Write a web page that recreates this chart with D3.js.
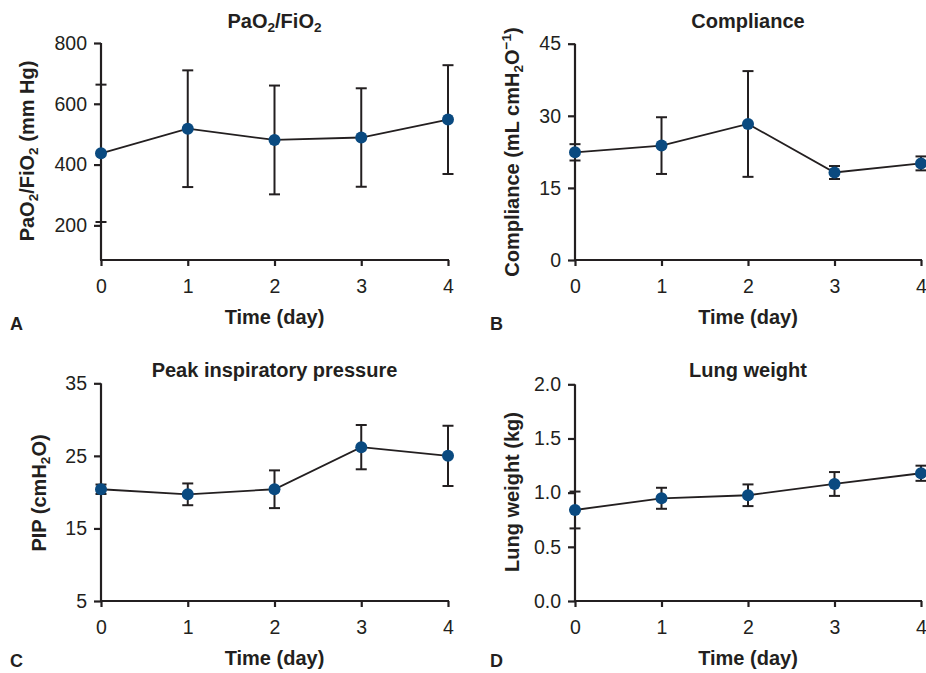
<!DOCTYPE html>
<html>
<head>
<meta charset="utf-8">
<script src="https://cdn.jsdelivr.net/npm/d3@7"></script>
<style>
  body { margin: 0; background: #fff; }
  svg { font-family: "Liberation Sans", Arial, sans-serif; }
  .axis path, .axis line { stroke: #231f20; stroke-width: 2.2; }
  .axis text { font-size: 19.5px; fill: #231f20; }
</style>
</head>
<body>
<svg id="chart" width="926" height="673"></svg>
<script>
// data (mean and SD per day)
const days = [0, 1, 2, 3, 4];

const pfMean = [437, 518, 481, 489, 548];
const pfSd = [226, 192, 179, 162, 179];
const pfTicks = [200, 400, 600, 800];

const compMean = [22.4, 23.8, 28.3, 18.2, 20.1];
const compSd = [1.7, 5.9, 11.0, 1.35, 1.45];
const compTicks = [0, 15, 30, 45];

const pipMean = [20.4, 19.7, 20.4, 26.2, 25.0];
const pipSd = [0.65, 1.5, 2.6, 3.05, 4.15];
const pipTicks = [5, 15, 25, 35];

const lungMean = [0.84, 0.948, 0.976, 1.08, 1.179];
const lungSd = [0.17, 0.097, 0.10, 0.11, 0.07];
const lungTicks = [0, 0.5, 1.0, 1.5, 2.0];

const ink = '#231f20';
const dotColor = '#0a4a80';
const titleSize = 20;

const svg = d3.select('#chart');

// helper: text with subscripts / superscripts, parts = [[text, 'sub'|'sup'|null], ...]
function richText(sel, parts, size) {
  parts.forEach(([t, kind]) => {
    if (!kind) {
      sel.append('tspan').attr('font-size', size).attr('baseline-shift', '0').text(t);
    } else {
      sel.append('tspan')
        .attr('font-size', size * 0.68)
        .attr('baseline-shift', kind === 'sub' ? '-28%' : '55%')
        .text(t);
    }
  });
}

function drawPanel(p) {
  const x = d3.scaleLinear().domain([0, 4]).range([p.left, p.right]);
  const y = d3.scaleLinear().domain(p.domain).range([p.bottom, p.top]);
  const g = svg.append('g');

  // axes
  g.append('g').attr('class', 'axis')
    .attr('transform', `translate(0,${p.bottom})`)
    .call(d3.axisBottom(x).tickValues(days).tickFormat(d3.format('d'))
      .tickSize(6).tickSizeOuter(0).tickPadding(13))
    .call(s => s.select('.domain').attr('d', `M${p.left - 1},0H${p.right + 1}`));
  g.append('g').attr('class', 'axis')
    .attr('transform', `translate(${p.left},0)`)
    .call(d3.axisLeft(y).tickValues(p.ticks).tickFormat(p.fmt).tickSize(7).tickSizeOuter(0).tickPadding(7))
    .call(s => s.select('.domain').attr('d', `M0,${p.top}V${p.bottom}`));

  // connecting line
  const line = d3.line().x((d, i) => x(days[i])).y(d => y(d));
  g.append('path').datum(p.mean)
    .attr('d', line).attr('fill', 'none')
    .attr('stroke', ink).attr('stroke-width', 1.8);

  // error bars
  const cap = 5.5;
  const eb = g.selectAll('.eb').data(p.mean).join('g');
  eb.each(function (m, i) {
    const cx = x(days[i]);
    const hi = y(m + p.sd[i]);
    const lo = y(Math.max(m - p.sd[i], p.domain[0]));
    const e = d3.select(this);
    e.append('line').attr('x1', cx).attr('x2', cx).attr('y1', hi).attr('y2', lo)
      .attr('stroke', ink).attr('stroke-width', 2);
    e.append('line').attr('x1', cx - cap).attr('x2', cx + cap).attr('y1', hi).attr('y2', hi)
      .attr('stroke', ink).attr('stroke-width', 2);
    if (m - p.sd[i] > p.domain[0]) {
      e.append('line').attr('x1', cx - cap).attr('x2', cx + cap).attr('y1', lo).attr('y2', lo)
        .attr('stroke', ink).attr('stroke-width', 2);
    }
  });

  // points
  g.selectAll('.dot').data(p.mean).join('circle')
    .attr('cx', (d, i) => x(days[i])).attr('cy', d => y(d))
    .attr('r', 6).attr('fill', dotColor);

  // title
  const title = g.append('text')
    .attr('x', (p.left + p.right) / 2).attr('y', p.titleY)
    .attr('text-anchor', 'middle').attr('font-weight', 'bold').attr('fill', ink);
  richText(title, p.title, titleSize);

  // x axis title
  g.append('text')
    .attr('x', (p.left + p.right) / 2).attr('y', p.bottom + 64)
    .attr('text-anchor', 'middle').attr('font-weight', 'bold').attr('fill', ink)
    .attr('font-size', titleSize).text('Time (day)');

  // y axis title
  const yt = g.append('text')
    .attr('transform', `translate(${p.yLabelX},${p.yLabelY}) rotate(-90)`)
    .attr('text-anchor', 'middle').attr('font-weight', 'bold').attr('fill', ink);
  richText(yt, p.yLabel, titleSize);

  // panel letter
  g.append('text')
    .attr('x', p.letterX).attr('y', p.letterY)
    .attr('font-weight', 'bold').attr('fill', ink).attr('font-size', 18)
    .text(p.letter);
}

drawPanel({
  left: 101, right: 448, top: 43, bottom: 260,
  domain: [86, 800], ticks: pfTicks, fmt: d3.format('d'),
  mean: pfMean, sd: pfSd,
  title: [['PaO', null], ['2', 'sub'], ['/FiO', null], ['2', 'sub']], titleY: 28,
  yLabel: [['PaO', null], ['2', 'sub'], ['/FiO', null], ['2', 'sub'], ['  (mm Hg)', null]],
  yLabelX: 34, yLabelY: 151,
  letter: 'A', letterX: 10, letterY: 330
});

drawPanel({
  left: 575, right: 921, top: 43.7, bottom: 260,
  domain: [0, 45], ticks: compTicks, fmt: d3.format('d'),
  mean: compMean, sd: compSd,
  title: [['Compliance', null]], titleY: 28,
  yLabel: [['Compliance (mL cmH', null], ['2', 'sub'], ['O', null], ['\u22121', 'sup'], [')', null]],
  yLabelX: 519, yLabelY: 152,
  letter: 'B', letterX: 490, letterY: 330
});

drawPanel({
  left: 101, right: 448, top: 383.3, bottom: 601,
  domain: [5, 35], ticks: pipTicks, fmt: d3.format('d'),
  mean: pipMean, sd: pipSd,
  title: [['Peak inspiratory pressure', null]], titleY: 377,
  yLabel: [['PIP (cmH', null], ['2', 'sub'], ['O)', null]],
  yLabelX: 46, yLabelY: 493,
  letter: 'C', letterX: 10, letterY: 667
});

drawPanel({
  left: 575, right: 921, top: 384.3, bottom: 601,
  domain: [0, 2], ticks: lungTicks, fmt: d3.format('.1f'),
  mean: lungMean, sd: lungSd,
  title: [['Lung weight', null]], titleY: 377,
  yLabel: [['Lung weight (kg)', null]],
  yLabelX: 519, yLabelY: 492,
  letter: 'D', letterX: 490, letterY: 667
});
</script>
</body>
</html>
